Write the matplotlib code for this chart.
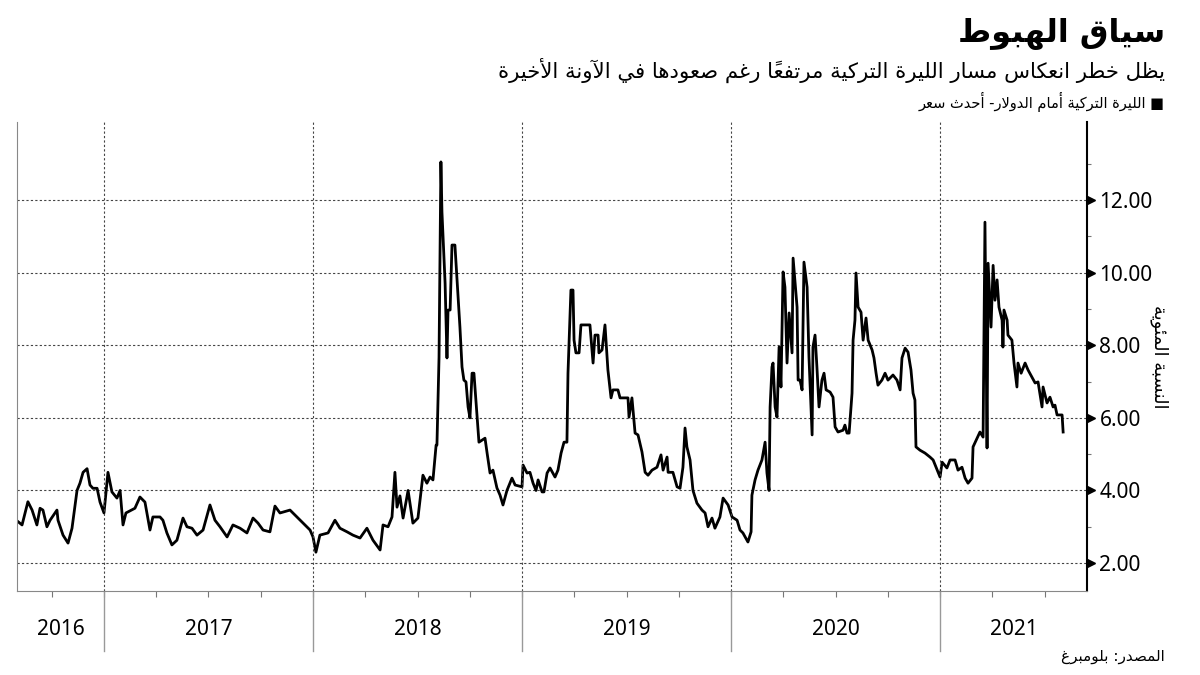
import unicodedata
import matplotlib
matplotlib.use('Agg')
import matplotlib.pyplot as plt
import matplotlib.transforms as mtrans
from matplotlib.ticker import FormatStrFormatter

# ---- data (decimal year, value) ----
t2016 = [2016.589, 2016.608, 2016.636, 2016.656, 2016.679, 2016.694, 2016.708, 2016.727, 2016.742, 2016.775,
         2016.780, 2016.804, 2016.828, 2016.847, 2016.871, 2016.885, 2016.900, 2016.919, 2016.933, 2016.947,
         2016.967, 2016.981]
v2016 = [3.14, 3.05, 3.69, 3.46, 3.05, 3.51, 3.46, 3.00, 3.18, 3.46,
         3.18, 2.77, 2.55, 2.96, 4.00, 4.20, 4.50, 4.60, 4.15, 4.06,
         4.06, 3.68]

t2017 = [2017.000, 2017.019, 2017.038, 2017.062, 2017.077, 2017.091, 2017.105, 2017.148, 2017.172, 2017.196,
         2017.220, 2017.234, 2017.268, 2017.282, 2017.301, 2017.325, 2017.349, 2017.378, 2017.397, 2017.421,
         2017.445, 2017.474, 2017.507, 2017.531, 2017.555, 2017.589, 2017.617, 2017.651, 2017.684, 2017.713,
         2017.737, 2017.761, 2017.794, 2017.818, 2017.842, 2017.890, 2017.923, 2017.952, 2017.986]
v2017 = [3.38, 4.50, 3.96, 3.79, 4.00, 3.05, 3.38, 3.51, 3.82, 3.68,
         2.91, 3.27, 3.27, 3.18, 2.83, 2.50, 2.63, 3.24, 3.00, 2.96,
         2.77, 2.91, 3.60, 3.18, 3.00, 2.72, 3.05, 2.96, 2.83, 3.24,
         3.10, 2.91, 2.86, 3.57, 3.38, 3.46, 3.27, 3.10, 2.91]

t2018 = [2018.000, 2018.014, 2018.033, 2018.072, 2018.105, 2018.129, 2018.163, 2018.191, 2018.225, 2018.258,
         2018.287, 2018.321, 2018.335, 2018.359, 2018.378, 2018.392, 2018.402, 2018.416, 2018.431, 2018.455,
         2018.478, 2018.502, 2018.526, 2018.545, 2018.560, 2018.574, 2018.589, 2018.593, 2018.603, 2018.612,
         2018.617, 2018.632, 2018.641, 2018.646, 2018.656, 2018.665, 2018.679, 2018.689, 2018.703, 2018.713,
         2018.722, 2018.732, 2018.742, 2018.751, 2018.761, 2018.770, 2018.785, 2018.794, 2018.823, 2018.833,
         2018.847, 2018.861, 2018.880, 2018.895, 2018.909, 2018.928, 2018.952, 2018.967]
v2018 = [2.72, 2.30, 2.77, 2.83, 3.18, 2.96, 2.86, 2.77, 2.69, 2.96,
         2.63, 2.36, 3.05, 3.00, 3.27, 4.50, 3.54, 3.85, 3.24, 4.00,
         3.10, 3.24, 4.42, 4.20, 4.37, 4.29, 5.25, 5.25, 7.67, 13.05,
         11.67, 9.71, 7.65, 8.97, 8.97, 10.76, 10.76, 9.80, 8.50, 7.40,
         7.04, 6.99, 6.30, 6.00, 7.23, 7.23, 6.02, 5.33, 5.44, 5.03,
         4.48, 4.56, 4.07, 3.87, 3.60, 4.00, 4.34, 4.15]

t2019 = [2019.000, 2019.005, 2019.024, 2019.038, 2019.053, 2019.067, 2019.077, 2019.096, 2019.105, 2019.120,
         2019.134, 2019.158, 2019.172, 2019.187, 2019.201, 2019.215, 2019.220, 2019.234, 2019.244, 2019.249,
         2019.258, 2019.273, 2019.282, 2019.325, 2019.340, 2019.349, 2019.364, 2019.368, 2019.383, 2019.397,
         2019.411, 2019.426, 2019.435, 2019.459, 2019.469, 2019.507, 2019.512, 2019.526, 2019.541, 2019.555,
         2019.574, 2019.589, 2019.603, 2019.622, 2019.646, 2019.665, 2019.675, 2019.694, 2019.699, 2019.722,
         2019.742, 2019.756, 2019.770, 2019.780, 2019.789, 2019.804, 2019.818, 2019.837, 2019.861, 2019.876,
         2019.890, 2019.909, 2019.923, 2019.947, 2019.962, 2019.986]
v2019 = [4.10, 4.70, 4.48, 4.50, 4.20, 4.00, 4.29, 3.96, 3.96, 4.48,
         4.62, 4.37, 4.56, 5.03, 5.33, 5.33, 7.23, 9.52, 9.52, 8.14,
         7.79, 7.79, 8.56, 8.56, 7.51, 8.28, 8.28, 7.79, 7.87, 8.56,
         7.32, 6.55, 6.77, 6.77, 6.55, 6.55, 6.02, 6.55, 5.58, 5.53,
         5.06, 4.50, 4.42, 4.56, 4.64, 4.98, 4.56, 4.92, 4.50, 4.50,
         4.10, 4.06, 4.64, 5.72, 5.20, 4.84, 4.00, 3.65, 3.46, 3.38,
         3.00, 3.24, 2.96, 3.27, 3.79, 3.60]

t2020 = [2020.005, 2020.029, 2020.043, 2020.057, 2020.081, 2020.096, 2020.100, 2020.115, 2020.129, 2020.148,
         2020.163, 2020.172, 2020.182, 2020.187, 2020.196, 2020.201, 2020.211, 2020.220, 2020.230, 2020.239,
         2020.249, 2020.258, 2020.268, 2020.278, 2020.292, 2020.297, 2020.316, 2020.321, 2020.330, 2020.340,
         2020.349, 2020.364, 2020.373, 2020.388, 2020.392, 2020.402, 2020.411, 2020.421, 2020.435, 2020.445,
         2020.455, 2020.474, 2020.488, 2020.498, 2020.512, 2020.536, 2020.545, 2020.555, 2020.565, 2020.579,
         2020.584, 2020.593, 2020.598, 2020.608, 2020.622, 2020.632, 2020.646, 2020.656, 2020.675, 2020.684,
         2020.694, 2020.703, 2020.722, 2020.737, 2020.751, 2020.775, 2020.794, 2020.809, 2020.818, 2020.833,
         2020.847, 2020.861, 2020.871, 2020.880, 2020.885, 2020.904, 2020.928, 2020.952, 2020.967]
v2020 = [3.27, 3.18, 2.91, 2.83, 2.58, 2.86, 3.87, 4.29, 4.56, 4.84,
         5.33, 4.48, 4.00, 6.30, 7.40, 7.51, 6.30, 6.02, 7.95, 6.85,
         10.02, 9.60, 7.51, 8.89, 7.79, 10.40, 9.05, 7.04, 7.04, 6.77,
         10.29, 9.60, 7.67, 5.53, 7.95, 8.28, 7.40, 6.30, 7.04, 7.23,
         6.77, 6.71, 6.57, 5.75, 5.61, 5.66, 5.80, 5.58, 5.58, 6.68,
         8.14, 8.69, 9.99, 9.05, 8.91, 8.14, 8.75, 8.14, 7.87, 7.65,
         7.23, 6.90, 7.04, 7.23, 7.04, 7.18, 7.04, 6.77, 7.65, 7.92,
         7.81, 7.32, 6.68, 6.49, 5.20, 5.11, 5.03, 4.92, 4.84]

t2021 = [2021.000, 2021.010, 2021.033, 2021.048, 2021.072, 2021.086, 2021.105, 2021.120, 2021.134, 2021.153,
         2021.158, 2021.177, 2021.191, 2021.206, 2021.215, 2021.225, 2021.230, 2021.244, 2021.254, 2021.263,
         2021.273, 2021.282, 2021.297, 2021.301, 2021.306, 2021.321, 2021.325, 2021.344, 2021.354, 2021.368,
         2021.373, 2021.388, 2021.407, 2021.421, 2021.440, 2021.455, 2021.469, 2021.488, 2021.493, 2021.512,
         2021.526, 2021.541, 2021.550, 2021.560, 2021.584, 2021.589]
v2021 = [4.37, 4.78, 4.62, 4.84, 4.84, 4.56, 4.64, 4.34, 4.20, 4.34,
         5.20, 5.44, 5.61, 5.47, 11.39, 5.17, 10.26, 8.50, 10.20, 9.24,
         9.80, 9.05, 8.69, 7.95, 8.97, 8.69, 8.28, 8.14, 7.51, 6.85,
         7.51, 7.23, 7.51, 7.32, 7.12, 6.96, 6.99, 6.30, 6.85, 6.41,
         6.57, 6.30, 6.35, 6.08, 6.08, 5.61]

years = [2016, 2017, 2018, 2019, 2020, 2021]
yticks = [2, 4, 6, 8, 10, 12]

title = "سياق الهبوط"
subtitle = "يظل خطر انعكاس مسار الليرة التركية مرتفعاً رغم صعودها في الآونة الأخيرة"
legend_label = "الليرة التركية أمام الدولار- أحدث سعر"
ylabel = "النسبة المئوية"
source = "المصدر: بلومبرغ"

t = t2016 + t2017 + t2018 + t2019 + t2020 + t2021
v = v2016 + v2017 + v2018 + v2019 + v2020 + v2021

# ---- tiny arabic shaper (presentation forms + visual order) ----
DUAL = {'ئ': 0xFE89, 'ب': 0xFE8F, 'ت': 0xFE95, 'ث': 0xFE99, 'ج': 0xFE9D, 'ح': 0xFEA1, 'خ': 0xFEA5,
        'س': 0xFEB1, 'ش': 0xFEB5, 'ص': 0xFEB9, 'ض': 0xFEBD, 'ط': 0xFEC1, 'ظ': 0xFEC5, 'ع': 0xFEC9,
        'غ': 0xFECD, 'ف': 0xFED1, 'ق': 0xFED5, 'ك': 0xFED9, 'ل': 0xFEDD, 'م': 0xFEE1, 'ن': 0xFEE5,
        'ه': 0xFEE9, 'ي': 0xFEF1}
RIGHT = {'آ': 0xFE81, 'أ': 0xFE83, 'ؤ': 0xFE85, 'إ': 0xFE87, 'ا': 0xFE8D, 'ة': 0xFE93, 'د': 0xFEA9,
         'ذ': 0xFEAB, 'ر': 0xFEAD, 'ز': 0xFEAF, 'و': 0xFEED, 'ى': 0xFEEF}
LAMALEF = {'آ': 0xFEF5, 'أ': 0xFEF7, 'إ': 0xFEF9, 'ا': 0xFEFB}


def shape(text):
    chars = list(text)
    n = len(chars)
    clusters = []
    prev_join = False
    i = 0
    while i < n:
        c = chars[i]
        if c in DUAL or c in RIGHT:
            j = i + 1
            while j < n and unicodedata.combining(chars[j]):
                j += 1
            nxt = chars[j] if j < n else ''
            marks = chars[i + 1:j]
            if c == 'ل' and nxt in LAMALEF:
                k = j + 1
                while k < n and unicodedata.combining(chars[k]):
                    k += 1
                clusters.append([chr(LAMALEF[nxt] + (1 if prev_join else 0))] + marks + chars[j + 1:k])
                prev_join = False
                i = k
                continue
            if c in DUAL:
                nj = nxt in DUAL or nxt in RIGHT
                base = DUAL[c]
                if prev_join and nj:
                    g = base + 3
                elif prev_join:
                    g = base + 1
                elif nj:
                    g = base + 2
                else:
                    g = base
                prev_join = True
            else:
                g = RIGHT[c] + (1 if prev_join else 0)
                prev_join = False
            clusters.append([chr(g)] + marks)
            i = j
        else:
            clusters.append([c])
            prev_join = False
            i += 1
    return ''.join(''.join(cl) for cl in reversed(clusters))


AR = ['DejaVu Sans']
NUM = 'Noto Sans'

fig = plt.figure(figsize=(12, 6.75), dpi=100)
ax = fig.add_axes([0.0142, 0.1244, 0.8916, 0.6949])

ax.plot(t, v, color='black', lw=2.0)

xmin, xmax = 2016.584, 2021.703
ax.set_xlim(xmin, xmax)
ax.set_ylim(1.23, 14.15)

# y axis on the right
ax.yaxis.tick_right()
ax.set_yticks(yticks)
ax.set_yticks([3, 5, 7, 9, 11, 13], minor=True)
ax.yaxis.set_major_formatter(FormatStrFormatter('%.2f'))
ax.tick_params(axis='y', which='major', length=0, pad=9, labelsize=15)
ax.tick_params(axis='y', which='minor', length=3, color='#777', width=0.8)
for lab in ax.get_yticklabels():
    lab.set_family(NUM)
ax.grid(axis='y', which='major', color='#444', linestyle=(0, (2, 2)), lw=0.8)
ytr = mtrans.blended_transform_factory(ax.transAxes, ax.transData)
ax.plot([1.004] * len(yticks), yticks, transform=ytr, marker='>', ls='none', ms=6,
        color='black', clip_on=False)

# x axis: quarterly small ticks, years as labels between separators
ax.set_xticks([])
quarters = [y + q / 4 for y in years for q in range(4) if xmin < y + q / 4 < xmax]
ax.set_xticks(quarters, minor=True)
ax.tick_params(axis='x', which='minor', length=4, color='#777', width=0.8)
xtr = mtrans.blended_transform_factory(ax.transData, ax.transAxes)
for y in years[1:]:
    ax.axvline(y, color='#444', linestyle=(0, (2, 2)), lw=0.8)
    ax.plot([y, y], [0, -0.128], transform=xtr, color='#999', lw=1.0, clip_on=False)
for y in years:
    c = (max(y, xmin) + min(y + 1, xmax)) / 2
    ax.text(c, -0.083, str(y), transform=xtr, ha='center', va='center', fontsize=15, family=NUM)

ax.spines['top'].set_visible(False)
ax.spines['left'].set_color('#888')
ax.spines['bottom'].set_color('#888')
ax.spines['right'].set_color('black')
ax.spines['right'].set_linewidth(1.5)

ax.text(1.068, 0.5, shape(ylabel), transform=ax.transAxes, rotation=270, ha='center', va='center',
        fontsize=13, family=AR)

# titles
fig.text(0.9708, 0.951, shape(title), ha='right', va='center', fontsize=23, weight='bold', family=AR)
fig.text(0.9708, 0.896, shape(subtitle), ha='right', va='center', fontsize=15.3, family=AR)
fig.text(0.9708, 0.849, shape(legend_label) + ' ■', ha='right', va='center', fontsize=10.5, family=AR)
fig.text(0.9708, 0.028, shape(source), ha='right', va='center', fontsize=11, family=AR)

fig.savefig('out.png', dpi=100)
